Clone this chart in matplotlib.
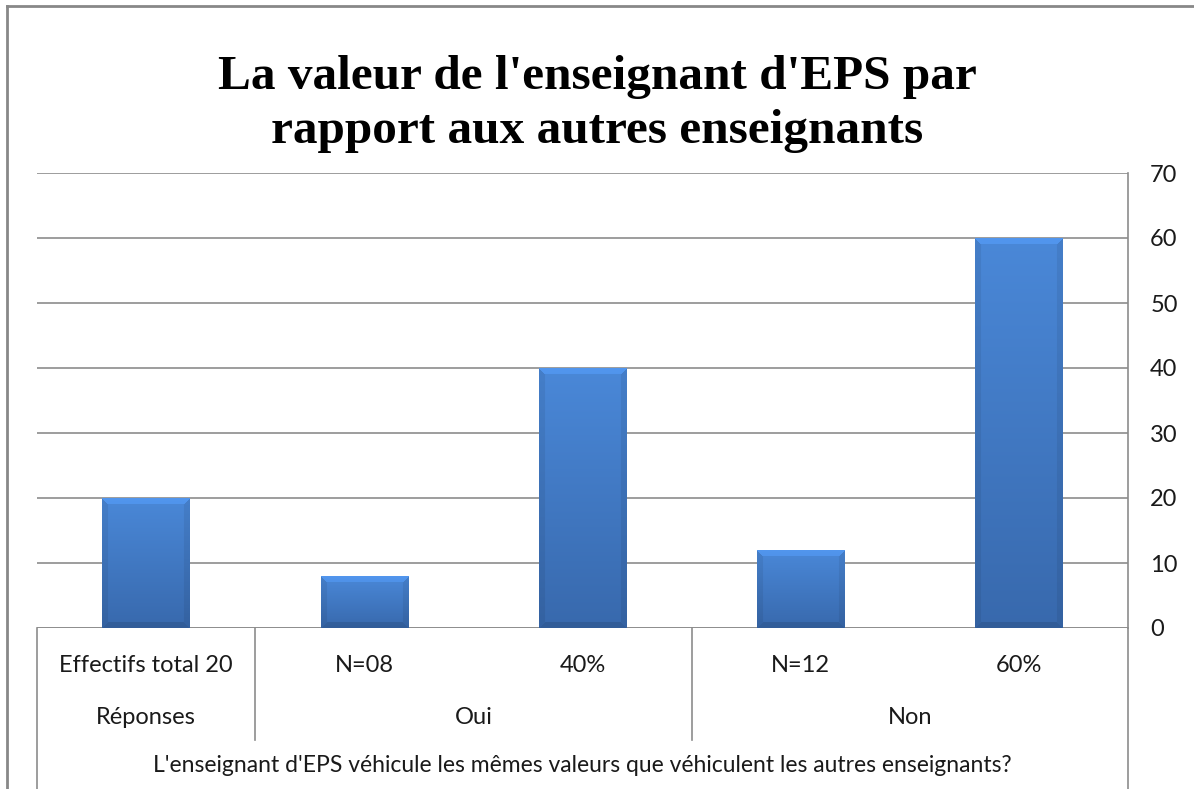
import numpy as np
import matplotlib.pyplot as plt
import matplotlib.colors as mcolors
from matplotlib.lines import Line2D

# Données
labels_niveau1 = ["Effectifs total 20", "N=08", "40%", "N=12", "60%"]
valeurs = [20, 8, 40, 12, 60]
groupes = ["Réponses", "Oui", "Non"]
groupes_taille = [1, 2, 2]
titre_axe = "L'enseignant d'EPS véhicule les mêmes valeurs que véhiculent les autres enseignants?"
titre = "La valeur de l'enseignant d'EPS par\nrapport aux autres enseignants"

W, H = 1194, 789
fig = plt.figure(figsize=(W / 100, H / 100), dpi=100)
ax = fig.add_axes([37 / W, 1 - 628 / H, (1128 - 37) / W, (628 - 173) / H])

x = np.arange(len(valeurs))
largeur = 0.4
ax.set_xlim(-0.5, len(valeurs) - 0.5)
ax.set_ylim(0, 70)
ax.set_yticks(range(0, 71, 10))
ax.yaxis.tick_right()
ax.tick_params(axis="y", length=0, pad=16, labelsize=17, labelcolor="#1a1a1a")
for t in ax.get_yticklabels():
    t.set_family("Lato")
ax.set_xticks([])
ax.grid(axis="y", color="#8c8c8c", linewidth=1.2)
ax.set_axisbelow(True)
for s in ["top", "left", "bottom"]:
    ax.spines[s].set_visible(False)
ax.spines["right"].set_color("#8c8c8c")
ax.spines["right"].set_linewidth(1.2)
ax.axhline(0, color="#8c8c8c", linewidth=1.2, zorder=1)

# barres avec un effet biseauté
bars = ax.bar(x, valeurs, width=largeur, color="#3f7fcf", zorder=2)
fig.canvas.draw()
haut = np.array(mcolors.to_rgb("#4a88d8"))
bas = np.array(mcolors.to_rgb("#3869ad"))
bev = 6
for b in bars:
    bx, by = b.get_x(), b.get_y()
    bw, bh = b.get_width(), b.get_height()
    p0 = ax.transData.transform((bx, by))
    p1 = ax.transData.transform((bx + bw, by + bh))
    wpx, hpx = int(round(p1[0] - p0[0])), int(round(p1[1] - p0[1]))
    yy, xx = np.mgrid[0:hpx, 0:wpx]
    t = yy / max(hpx - 1, 1)
    img = haut[None, None, :] * (1 - t[..., None]) + bas[None, None, :] * t[..., None]
    shade = np.ones((hpx, wpx))
    d_top = yy
    d_left = xx
    d_right = wpx - 1 - xx
    d_bot = hpx - 1 - yy
    dmin = np.minimum(np.minimum(d_top, d_bot), np.minimum(d_left, d_right))
    edge = dmin < bev
    shade[edge & (dmin == d_top)] = 1.1
    shade[edge & ((dmin == d_left) | (dmin == d_right)) & (dmin != d_top)] = 0.93
    shade[edge & (dmin == d_bot) & (dmin != d_left) & (dmin != d_right)] = 0.88
    img = np.clip(img * shade[..., None], 0, 1)
    ax.imshow(img, extent=(bx, bx + bw, by, by + bh), origin="upper",
              aspect="auto", zorder=3, interpolation="bilinear")
    b.set_visible(False)
ax.set_xlim(-0.5, len(valeurs) - 0.5)
ax.set_ylim(0, 70)

# axe des catégories à plusieurs niveaux
trans = ax.get_xaxis_transform()
hpx_ax = 628 - 173
def yax(py):
    return -(py - 628) / hpx_ax

police = dict(family="Lato", fontsize=17, color="#1a1a1a", ha="center", va="center")
for i, lab in enumerate(labels_niveau1):
    ax.text(i, yax(665), lab, transform=trans, **police)
debut = 0
for g, n in zip(groupes, groupes_taille):
    ax.text(debut + (n - 1) / 2, yax(717), g, transform=trans, **police)
    debut += n
    if debut < len(valeurs):
        ax.add_line(Line2D([debut - 0.5] * 2, [0, yax(740)], transform=trans,
                           color="#8c8c8c", linewidth=1.2, clip_on=False))
ax.text((len(valeurs) - 1) / 2, yax(766), titre_axe, transform=trans,
        **{**police, "fontsize": 16.5})
for xb in [-0.5, len(valeurs) - 0.5]:
    ax.add_line(Line2D([xb, xb], [0, yax(800)], transform=trans,
                       color="#8c8c8c", linewidth=1.2, clip_on=False))

# cadre du graphique
fig.add_artist(Line2D([7 / W, 1.01], [1 - 6 / H] * 2, transform=fig.transFigure,
                      color="#888888", linewidth=2))
fig.add_artist(Line2D([7 / W] * 2, [-0.01, 1 - 6 / H], transform=fig.transFigure,
                      color="#888888", linewidth=2))

fig.text(0.5, 1 - 104 / H, titre, ha="center", va="center", family="Liberation Serif",
         fontweight="bold", fontsize=35.5, linespacing=1.3)

fig.savefig("out.png", dpi=100)
